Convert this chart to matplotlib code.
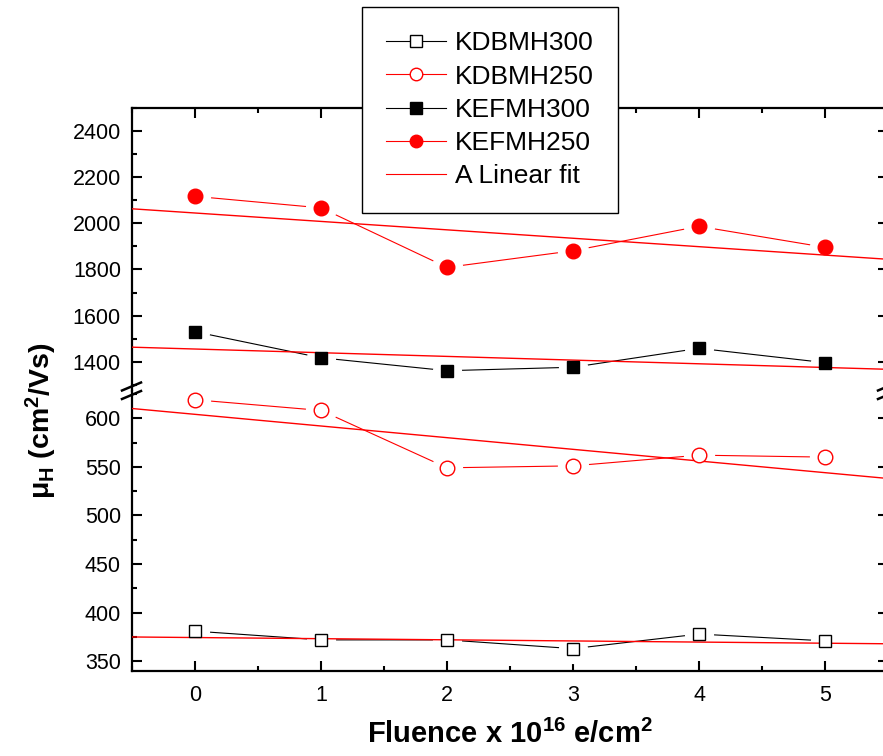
"""
Hall mobility vs fluence, broken y axis (Origin style)
"""
import matplotlib
matplotlib.use('Agg')
import matplotlib.pyplot as plt
from matplotlib.lines import Line2D
from matplotlib.ticker import MultipleLocator

plt.rcParams['font.family'] = ['Liberation Sans', 'DejaVu Sans']
plt.rcParams['mathtext.default'] = 'regular'

# 数据
fluence = [0, 1, 2, 3, 4, 5]
kdbmh300 = [381, 372, 372, 363, 378, 371]
kdbmh250 = [619, 608, 549, 551, 562, 560]
kefmh300 = [1530, 1417, 1361, 1376, 1458, 1396]
kefmh250 = [2117, 2067, 1809, 1881, 1987, 1896]

# linear fits, values read at both ends of the x range
fit_x = [-0.5, 5.5]
fit_kdbmh300 = [375, 368]
fit_kdbmh250 = [610, 538]
fit_kefmh300 = [1463, 1367]
fit_kefmh250 = [2063, 1844]

W, H = 883, 756
fig = plt.figure(figsize=(W / 100, H / 100), dpi=100)

# axes boxes in pixels
left, right = 132, 888
top, brk, bottom = 108, 391, 671
ax_hi = fig.add_axes([left / W, 1 - brk / H, (right - left) / W, (brk - top) / H])
ax_lo = fig.add_axes([left / W, 1 - bottom / H, (right - left) / W, (bottom - brk) / H], sharex=ax_hi)


def draw_series(ax, y, marker, face, color, ms):
    ax.plot(fluence, y, '-', color=color, lw=0.8, zorder=2)
    # white halo -> gap between line and marker
    ax.plot(fluence, y, ls='none', marker='o', ms=ms + 11, mfc='white', mec='white', zorder=3)
    ax.plot(fluence, y, ls='none', marker=marker, ms=ms, mfc=face, mec=color, mew=1.0, zorder=5)


draw_series(ax_hi, kefmh250, 'o', 'red', 'red', 10.5)
draw_series(ax_hi, kefmh300, 's', 'black', 'black', 9)
draw_series(ax_lo, kdbmh250, 'o', 'white', 'red', 10.5)
draw_series(ax_lo, kdbmh300, 's', 'white', 'black', 9)

for ax, fy in [(ax_hi, fit_kefmh250), (ax_hi, fit_kefmh300), (ax_lo, fit_kdbmh250), (ax_lo, fit_kdbmh300)]:
    ax.plot(fit_x, fy, '-', color='red', lw=1.0, zorder=4)

ax_hi.set_xlim(-0.5, 5.5)
ax_hi.set_ylim(1273, 2500)
ax_lo.set_ylim(340, 628)
ax_hi.xaxis.set_major_locator(MultipleLocator(1))
ax_hi.xaxis.set_minor_locator(MultipleLocator(0.5))
ax_hi.yaxis.set_major_locator(MultipleLocator(200))
ax_hi.yaxis.set_minor_locator(MultipleLocator(100))
ax_lo.yaxis.set_major_locator(MultipleLocator(50))
ax_lo.yaxis.set_minor_locator(MultipleLocator(25))

for ax in [ax_hi, ax_lo]:
    for s in ax.spines.values():
        s.set_linewidth(1.6)
    ax.tick_params(which='both', direction='in', width=1.5, left=True, right=True, labelsize=15.5, pad=8)
    ax.tick_params(which='major', length=7.5)
    ax.tick_params(which='minor', length=3.8)

ax_hi.spines['bottom'].set_visible(False)
ax_lo.spines['top'].set_visible(False)
ax_hi.tick_params(axis='x', which='both', bottom=False, top=True, labelbottom=False)
ax_lo.tick_params(axis='x', which='both', bottom=True, top=False, labelbottom=True, pad=10)

# break marks on both sides
for cx in [left, right]:
    for dy in [0, -8.5]:
        ln = Line2D([(cx - 10) / W, (cx + 9) / W], [1 - (399 + dy) / H, 1 - (391 + dy) / H],
                    transform=fig.transFigure, color='black', lw=1.8)
        fig.add_artist(ln)

fig.text(41 / W, 1 - 421 / H, r'μ$_H$ (cm$^2$/Vs)', rotation=90, ha='center', va='center',
         fontsize=20.5, fontweight='bold')
fig.text((left + right) / 2 / W, 13 / H, r'Fluence x 10$^{16}$ e/cm$^2$', ha='center', va='baseline',
         fontsize=21, fontweight='bold')

handles = [
    Line2D([], [], color='black', lw=0.8, marker='s', ms=8, mfc='white', mec='black'),
    Line2D([], [], color='red', lw=0.8, marker='o', ms=9, mfc='white', mec='red'),
    Line2D([], [], color='black', lw=0.8, marker='s', ms=8, mfc='black', mec='black'),
    Line2D([], [], color='red', lw=0.8, marker='o', ms=9, mfc='red', mec='red'),
    Line2D([], [], color='red', lw=0.8),
]
labels = ['KDBMH300', 'KDBMH250', 'KEFMH300', 'KEFMH250', 'A Linear fit']
leg = fig.legend(handles, labels, loc='upper left', bbox_to_anchor=(362 / W, 1 - 7 / H),
                 fontsize=19, frameon=True, fancybox=False, framealpha=1, edgecolor='black',
                 borderpad=0.92, labelspacing=0.35, handlelength=2.25, handletextpad=0.35,
                 borderaxespad=0)
leg.get_frame().set_linewidth(1.0)

plt.savefig('out.png', dpi=100)
plt.close()
